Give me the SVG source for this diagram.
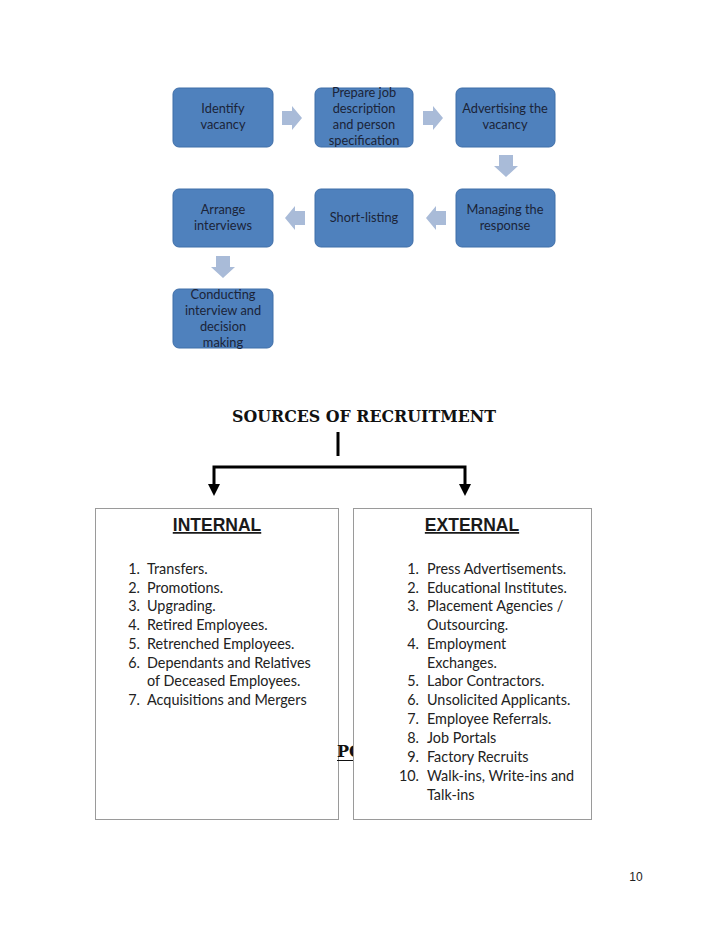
<svg xmlns="http://www.w3.org/2000/svg" width="728" height="943" viewBox="0 0 728 943">
<style>
.node rect{fill:#4f81bd;stroke:#3f6ea8;stroke-width:1}
.nt{font-family:Lato,"Open Sans",sans-serif;font-size:12.8px;fill:#1b2438;text-anchor:middle}
.blk{fill:#a9bbd8}
.box{fill:#ffffff;stroke:#9a9a9a;stroke-width:1}
.hd{font-family:"Liberation Sans",Arial,sans-serif;font-size:17.5px;font-weight:bold;fill:#1a1a1a;text-anchor:middle;text-decoration:underline}
.li{font-family:Lato,"Open Sans",sans-serif;font-size:14.4px;fill:#222}
.num{font-family:Lato,"Open Sans",sans-serif;font-size:14.4px;fill:#222;text-anchor:end}
</style>
<rect width="728" height="943" fill="#ffffff"/>
<g id="flow-arrows">
<polygon class="blk" points="282,111 292,111 292,106 302,118 292,130 292,125 282,125"/>
<polygon class="blk" points="423,111 433,111 433,106 443,118 433,130 433,125 423,125"/>
<polygon class="blk" points="499,155 513,155 513,166 518,166 506,177 494,166 499,166"/>
<polygon class="blk" points="305,211 295,211 295,206 285,218 295,230 295,225 305,225"/>
<polygon class="blk" points="446,211 436,211 436,206 426,218 436,230 436,225 446,225"/>
<polygon class="blk" points="216,256 230,256 230,267 235,267 223,278 211,267 216,267"/>
</g>
<g id="n-identify" class="node"><rect x="173" y="88" width="100" height="59" rx="6"/><text class="nt" x="223" y="113">Identify</text><text class="nt" x="223" y="129">vacancy</text></g>
<g id="n-prepare" class="node"><rect x="315" y="88" width="98" height="59" rx="6"/><text class="nt" x="364" y="97">Prepare job</text><text class="nt" x="364" y="113">description</text><text class="nt" x="364" y="129">and person</text><text class="nt" x="364" y="145">specification</text></g>
<g id="n-advert" class="node"><rect x="456" y="88" width="99" height="59" rx="6"/><text class="nt" x="505" y="113">Advertising the</text><text class="nt" x="505" y="129">vacancy</text></g>
<g id="n-managing" class="node"><rect x="456" y="189" width="99" height="58" rx="6"/><text class="nt" x="505" y="214">Managing the</text><text class="nt" x="505" y="230">response</text></g>
<g id="n-short" class="node"><rect x="315" y="189" width="98" height="58" rx="6"/><text class="nt" x="364" y="222">Short-listing</text></g>
<g id="n-arrange" class="node"><rect x="173" y="189" width="100" height="58" rx="6"/><text class="nt" x="223" y="214">Arrange</text><text class="nt" x="223" y="230">interviews</text></g>
<g id="n-conduct" class="node"><rect x="173" y="289" width="100" height="59" rx="6"/><text class="nt" x="223" y="299">Conducting</text><text class="nt" x="223" y="315">interview and</text><text class="nt" x="223" y="331">decision</text><text class="nt" x="223" y="347">making</text></g>
<g id="title"><text x="364" y="422" font-family="'DejaVu Serif',serif" font-size="17" font-weight="bold" fill="#111" text-anchor="middle" textLength="264" lengthAdjust="spacingAndGlyphs">SOURCES OF RECRUITMENT</text></g>
<g id="connectors" stroke="#000" fill="none">
<line x1="338" y1="432" x2="338" y2="456" stroke-width="3"/>
<polyline points="214,486 214,467 465,467 465,486" stroke-width="3"/>
<polygon points="208,484 220,484 214,496" fill="#000" stroke="none"/>
<polygon points="459,484 471,484 465,496" fill="#000" stroke="none"/>
</g>
<g id="internal">
<rect class="box" x="95.5" y="508.5" width="243" height="311"/>
<text class="hd" x="217" y="531">INTERNAL</text>
<text class="num" x="140" y="574">1.</text><text class="li" x="147" y="574">Transfers.</text>
<text class="num" x="140" y="593">2.</text><text class="li" x="147" y="593">Promotions.</text>
<text class="num" x="140" y="611">3.</text><text class="li" x="147" y="611">Upgrading.</text>
<text class="num" x="140" y="630">4.</text><text class="li" x="147" y="630">Retired Employees.</text>
<text class="num" x="140" y="649">5.</text><text class="li" x="147" y="649">Retrenched Employees.</text>
<text class="num" x="140" y="668">6.</text><text class="li" x="147" y="668">Dependants and Relatives</text>
<text class="li" x="147" y="686">of Deceased Employees.</text>
<text class="num" x="140" y="705">7.</text><text class="li" x="147" y="705">Acquisitions and Mergers</text>
</g>
<g id="hidden-text"><text x="337" y="757" font-family="'DejaVu Serif',serif" font-size="16" font-weight="bold" fill="#111">PO</text><line x1="337" y1="760.5" x2="353" y2="760.5" stroke="#111" stroke-width="1"/></g>
<g id="external">
<rect class="box" x="353.5" y="508.5" width="238" height="311"/>
<text class="hd" x="472" y="531">EXTERNAL</text>
<text class="num" x="419" y="574">1.</text><text class="li" x="427" y="574">Press Advertisements.</text>
<text class="num" x="419" y="593">2.</text><text class="li" x="427" y="593">Educational Institutes.</text>
<text class="num" x="419" y="611">3.</text><text class="li" x="427" y="611">Placement Agencies /</text>
<text class="li" x="427" y="630">Outsourcing.</text>
<text class="num" x="419" y="649">4.</text><text class="li" x="427" y="649">Employment</text>
<text class="li" x="427" y="668">Exchanges.</text>
<text class="num" x="419" y="686">5.</text><text class="li" x="427" y="686">Labor Contractors.</text>
<text class="num" x="419" y="705">6.</text><text class="li" x="427" y="705">Unsolicited Applicants.</text>
<text class="num" x="419" y="724">7.</text><text class="li" x="427" y="724">Employee Referrals.</text>
<text class="num" x="419" y="743">8.</text><text class="li" x="427" y="743">Job Portals</text>
<text class="num" x="419" y="762">9.</text><text class="li" x="427" y="762">Factory Recruits</text>
<text class="num" x="419" y="781">10.</text><text class="li" x="427" y="781">Walk-ins, Write-ins and</text>
<text class="li" x="427" y="800">Talk-ins</text>
</g>
<text x="636" y="881" font-family="'Liberation Sans',Arial,sans-serif" font-size="12" fill="#222" text-anchor="middle">10</text>
</svg>
